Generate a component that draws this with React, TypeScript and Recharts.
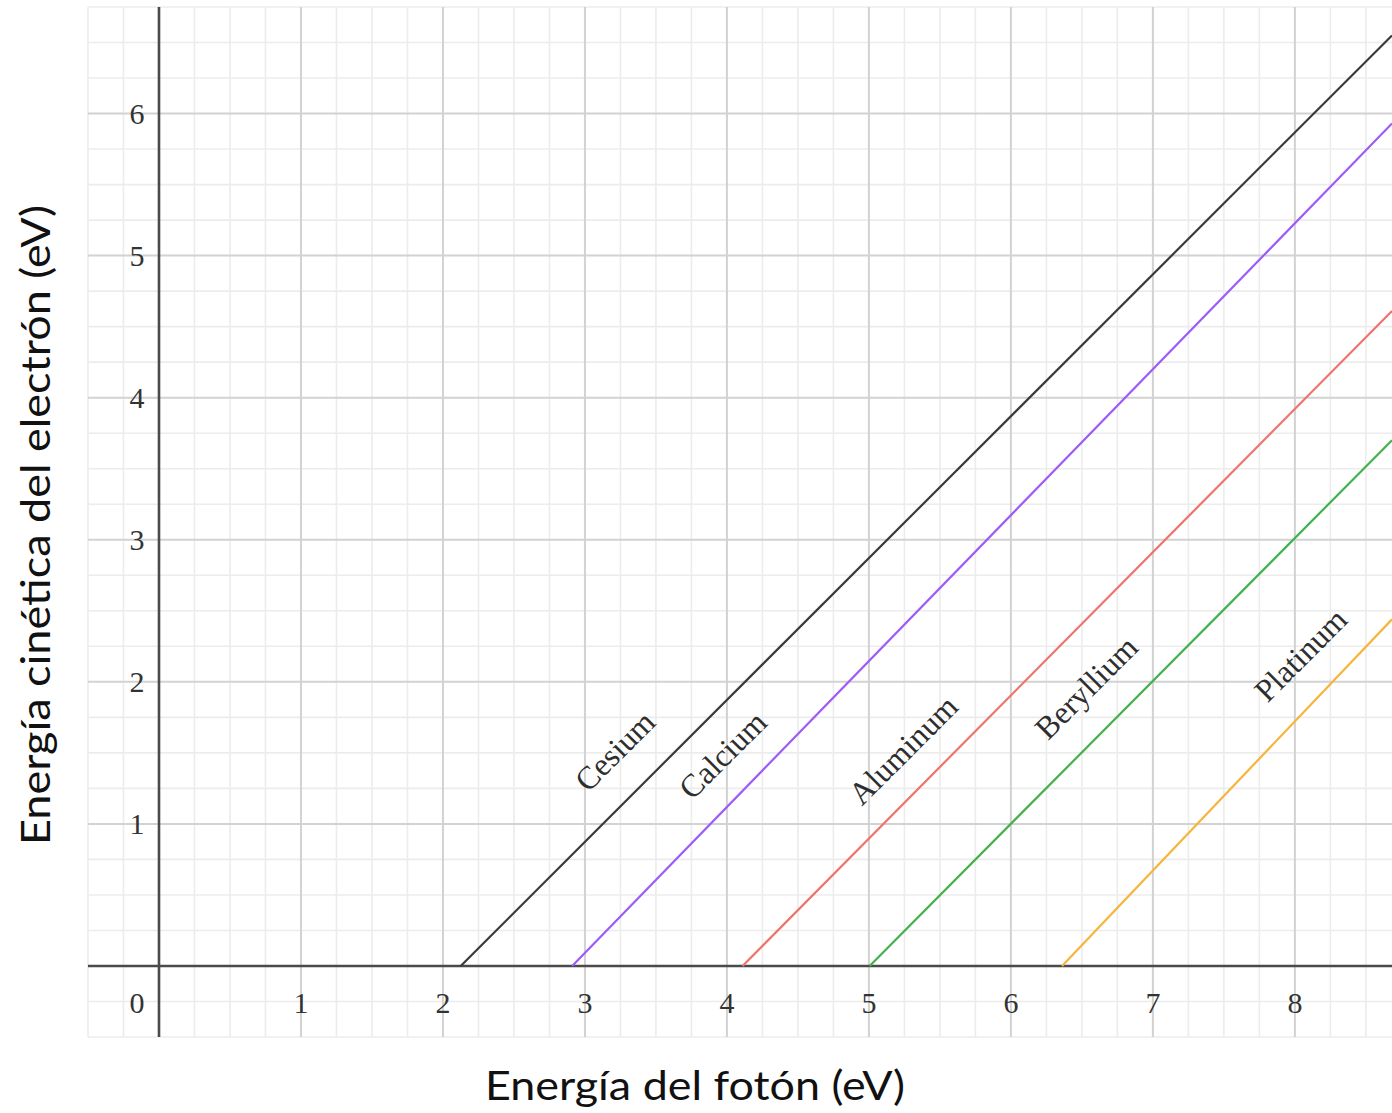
import React from 'react';
import { ComposedChart, Line, Scatter, XAxis, YAxis, ReferenceLine } from 'recharts';

// ---- data ----
const xTickLabels = [1, 2, 3, 4, 5, 6, 7, 8];
const yTickLabels = [1, 2, 3, 4, 5, 6];
const originLabel = '0';

const metals = ['Cesium', 'Calcium', 'Aluminum', 'Beryllium', 'Platinum'];
const thresholds = [2.125, 2.91, 4.11, 5.005, 6.36]; // photon energy where KE = 0
const endEnergies = [6.55, 5.93, 4.61, 3.7, 2.44]; // KE at right edge of the plot
const labelPosX = [3.21, 3.97, 5.24, 6.53, 8.04];
const labelPosY = [1.514, 1.486, 1.52, 1.96, 2.19];

const xTitle = 'Energía del fotón (eV)';
const yTitle = 'Energía cinética del electrón (eV)';

// ---- layout / style ----
const X_MIN = -0.5;
const X_MAX = 8.684;
const Y_MIN = -0.5;
const Y_MAX = 6.75;
const GRID_STEP = 0.25;
const TICK_ROW_Y = -0.26;
const TICK_COL_X = -0.155;

const lineColors = ['#3a3a3a', '#9d5cf7', '#f0736a', '#43b14b', '#f7b43a'];

const range = (a: number, b: number, s: number) => {
  const out: number[] = [];
  for (let v = a; v <= b + 1e-9; v += s) out.push(Math.round(v * 1000) / 1000);
  return out;
};
const gridX = range(X_MIN, 8.5, GRID_STEP);
const gridY = range(Y_MIN, Y_MAX, GRID_STEP);
const isMajor = (v: number) => Math.abs(v - Math.round(v)) < 1e-6;

const serif = '"Liberation Serif", "DejaVu Serif", serif';

const tickData = [
  ...xTickLabels.map((v) => ({ x: v, y: TICK_ROW_Y, t: String(v) })),
  ...yTickLabels.map((v) => ({ x: TICK_COL_X, y: v, t: String(v) })),
  { x: TICK_COL_X, y: TICK_ROW_Y, t: originLabel },
];

const metalLabelData = metals.map((m, i) => ({ x: labelPosX[i], y: labelPosY[i], t: m }));

const TickText = (props: any) => (
  <text
    x={props.cx}
    y={props.cy}
    textAnchor="middle"
    dominantBaseline="central"
    fontFamily={serif}
    fontSize={30}
    fill="#333"
  >
    {props.payload.t}
  </text>
);

const MetalText = (props: any) => (
  <text
    x={props.cx}
    y={props.cy}
    textAnchor="middle"
    dominantBaseline="central"
    fontFamily={serif}
    fontSize={32}
    fill="#2e2e2e"
    transform={`rotate(-45, ${props.cx}, ${props.cy})`}
  >
    {props.payload.t}
  </text>
);

const XTitle = (props: any) => {
  const vb = props.viewBox;
  return (
    <text
      x={695}
      y={vb.y + vb.height - 13}
      textAnchor="middle"
      fontFamily="Lato, sans-serif"
      fontSize={40}
      textLength={420}
      lengthAdjust="spacingAndGlyphs"
      fill="#111"
    >
      {xTitle}
    </text>
  );
};

const YTitle = () => {
  const cx = 50;
  const cy = 525;
  return (
    <text
      x={cx}
      y={cy}
      textAnchor="middle"
      transform={`rotate(-90, ${cx}, ${cy})`}
      fontFamily="Lato, sans-serif"
      fontSize={40}
      textLength={640}
      lengthAdjust="spacingAndGlyphs"
      fill="#111"
    >
      {yTitle}
    </text>
  );
};

export default function App() {
  return (
    <div style={{ position: 'absolute', left: 0, top: 0, width: 1392, height: 1113, background: '#fff' }}>
      <ComposedChart width={1392} height={1113} margin={{ top: 7, right: 0, bottom: 0, left: 0 }}>
        <XAxis
          type="number"
          dataKey="x"
          domain={[X_MIN, X_MAX]}
          allowDataOverflow
          tick={false}
          axisLine={false}
          tickLine={false}
          height={76}
          label={{ content: XTitle }}
        />
        <YAxis
          type="number"
          dataKey="y"
          domain={[Y_MIN, Y_MAX]}
          allowDataOverflow
          tick={false}
          axisLine={false}
          tickLine={false}
          width={88}
          label={{ content: YTitle }}
        />
        {gridX.filter((v) => !isMajor(v)).map((v) => (
          <ReferenceLine key={'mx' + v} x={v} stroke="#ececec" strokeWidth={1.6} />
        ))}
        {gridY.filter((v) => !isMajor(v)).map((v) => (
          <ReferenceLine key={'my' + v} y={v} stroke="#ececec" strokeWidth={1.6} />
        ))}
        {gridX.filter((v) => isMajor(v) && v !== 0).map((v) => (
          <ReferenceLine key={'Mx' + v} x={v} stroke="#d2d2d2" strokeWidth={2} />
        ))}
        {gridY.filter((v) => isMajor(v) && v !== 0).map((v) => (
          <ReferenceLine key={'My' + v} y={v} stroke="#d2d2d2" strokeWidth={2} />
        ))}
        <ReferenceLine x={0} stroke="#4a4a4a" strokeWidth={2.6} />
        <ReferenceLine y={0} stroke="#4a4a4a" strokeWidth={2.6} />
        {metals.map((m, i) => (
          <Line
            key={m}
            data={[
              { x: thresholds[i], y: 0 },
              { x: X_MAX, y: endEnergies[i] },
            ]}
            dataKey="y"
            stroke={lineColors[i]}
            strokeWidth={2.2}
            dot={false}
            activeDot={false}
            isAnimationActive={false}
          />
        ))}
        <Scatter data={tickData} dataKey="y" shape={TickText} isAnimationActive={false} />
        <Scatter data={metalLabelData} dataKey="y" shape={MetalText} isAnimationActive={false} />
      </ComposedChart>
    </div>
  );
}
